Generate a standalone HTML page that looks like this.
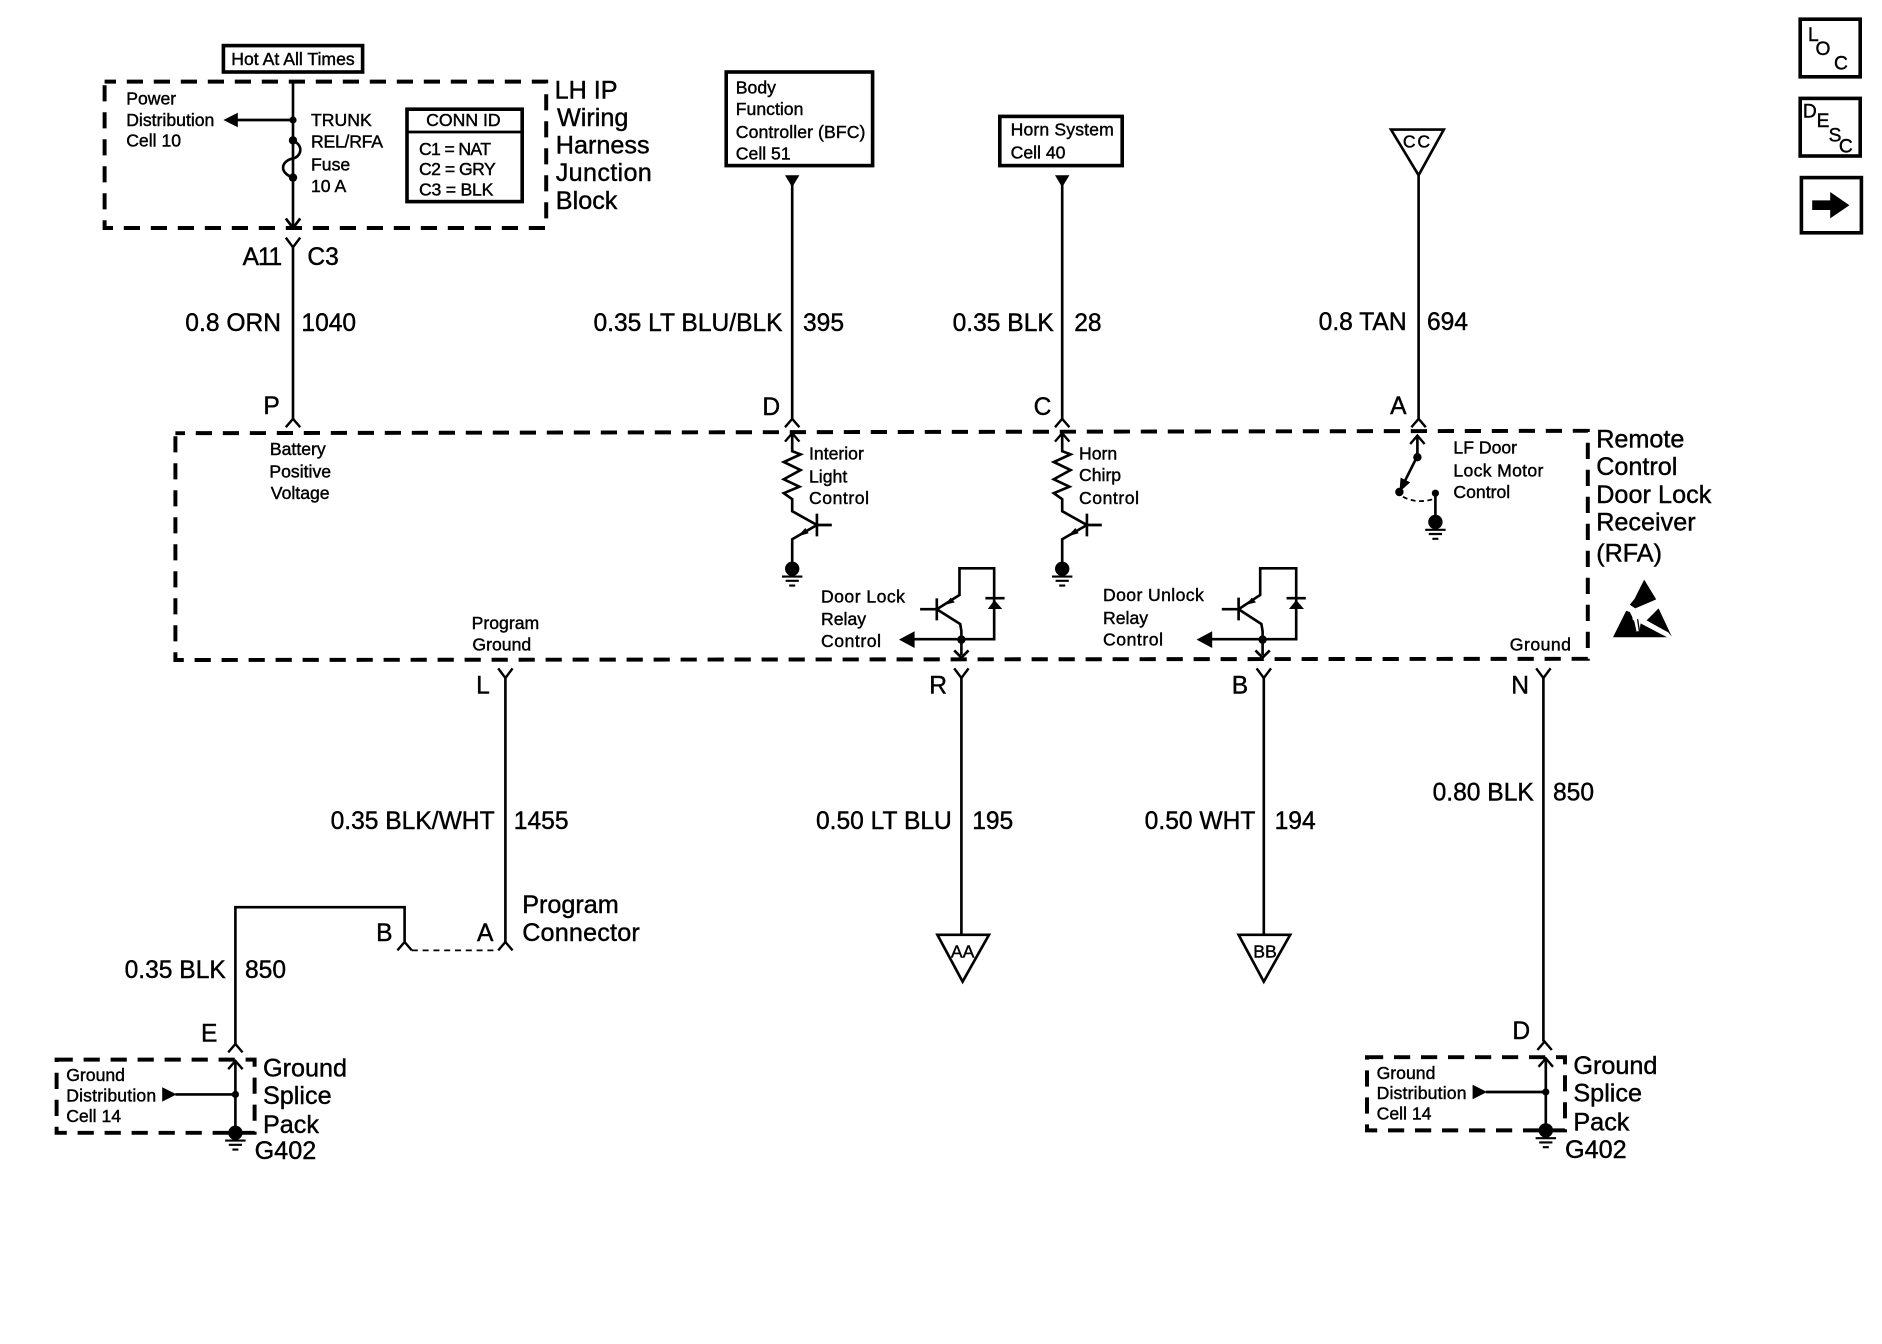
<!DOCTYPE html>
<html lang="en"><head><meta charset="utf-8"><title>Remote Control Door Lock Receiver Wiring Diagram</title>
<style>
html,body{margin:0;padding:0;background:#fff;width:1882px;height:1344px;overflow:hidden}
svg{display:block}
text{font-family:"Liberation Sans",sans-serif;fill:#000;stroke:#000;stroke-width:.35}
.s{font-size:14.7px}.m{font-size:16px}.l{font-size:21px}.w{font-size:20.5px}
.e{text-anchor:end}.c{text-anchor:middle}
.ln{fill:none;stroke:#000;stroke-width:2.2;stroke-linejoin:miter}
.d{fill:none;stroke:#000;stroke-width:3.3;stroke-dasharray:13.5 9}
.b{fill:none;stroke:#000;stroke-width:3}
</style></head><body>
<svg width="1882" height="1344" viewBox="0 0 1568 1120" xmlns="http://www.w3.org/2000/svg">
<defs>
<path id="fu" d="M-6 7 L0 0 L6 7" fill="none" stroke="#000" stroke-width="2"/>
<path id="fd" d="M-6 -8 L0 0 L6 -8" fill="none" stroke="#000" stroke-width="2"/>
<g id="gnd"><circle cx="0" cy="-1" r="6"/><path d="M-8.500 5.500H8.500M-5.500 9H5.500M-2.500 13H2.500" stroke="#000" stroke-width="1.800"/></g>
</defs>
<rect width="1568" height="1120" fill="#fff"/>

<!-- LH IP block -->
<rect x="186" y="38" width="116" height="22" class="b"/>
<text x="244" y="54" class="s c">Hot At All Times</text>
<path class="d" d="M87 68H455V190H87Z" stroke-dashoffset="4"/>
<path class="ln" d="M244 68V190"/>
<path d="M238 182L244 190L250 182" class="ln"/>
<circle cx="244" cy="100" r="3"/><circle cx="244" cy="117" r="3.500"/><circle cx="244" cy="148" r="3.500"/>
<path class="ln" d="M244 100H196"/><path d="M186 100L198 94V106Z"/>
<path class="ln" d="M244 117C254 122 250 131 244 132C234 134 232 144 244 148"/>
<text x="105" y="87" class="s">Power</text><text x="105" y="105" class="s">Distribution</text><text x="105" y="122" class="s">Cell 10</text>
<text x="259" y="105" class="s">TRUNK</text><text x="259" y="123" class="s" textLength="60">REL/RFA</text><text x="259" y="142" class="s">Fuse</text><text x="259" y="160" class="s">10 A</text>
<rect x="339" y="91" width="96" height="77" class="b"/><path class="ln" d="M339 110H435"/>
<text x="386" y="105" class="s c">CONN ID</text><text x="349" y="129" class="s" textLength="60">C1 = NAT</text><text x="349" y="146" class="s" textLength="64">C2 = GRY</text><text x="349" y="163" class="s" textLength="62">C3 = BLK</text>
<text x="462" y="82" class="l">LH IP</text><text x="464" y="105" class="l">Wiring</text><text x="463" y="128" class="l">Harness</text><text x="463" y="151" class="l" textLength="80">Junction</text><text x="463" y="174" class="l">Block</text>

<!-- P wire -->
<path class="ln" d="M244 206V349"/><use href="#fd" x="244" y="206"/><use href="#fu" x="244" y="349"/>
<text x="234" y="221" class="w e" letter-spacing="-1">A11</text><text x="256" y="221" class="w">C3</text>
<text x="234" y="276" class="w e">0.8 ORN</text><text x="251" y="276" class="w">1040</text>
<text x="233" y="345" class="w e">P</text>

<!-- Main receiver -->
<path class="d" d="M146 361L1323 359V549L146 550Z" stroke-dasharray="13.500 9" stroke-dashoffset="5.500"/>
<text x="248" y="379" class="s c">Battery</text><text x="250" y="398" class="s c">Positive</text><text x="250" y="416" class="s c">Voltage</text>

<!-- BFC column -->
<rect x="605" y="60" width="122" height="78" class="b"/>
<text x="613" y="78" class="s">Body</text><text x="613" y="96" class="s">Function</text><text x="613" y="115" class="s" textLength="108">Controller (BFC)</text><text x="613" y="133" class="s">Cell 51</text>
<path d="M654 146H666L660 156Z"/>
<path class="ln" d="M660 150V349"/><use href="#fu" x="660" y="349"/>
<text x="652" y="276" class="w e">0.35 LT BLU/BLK</text><text x="669" y="276" class="w">395</text>
<text x="650" y="346" class="w e">D</text>
<use href="#fu" x="660" y="361"/>
<path class="ln" d="M660 361V376L667 378.600L653 385L667 391.700L653 399.400L666 405.600L653 411L660 416V426L680.600 437.500M680.600 428V447M680 437.500H693M680.600 437.500L660 449.400V470"/>
<path d="M664.500 447L671 440L673.700 444.400Z"/>
<use href="#gnd" x="660" y="475"/>
<text x="674" y="383" class="s">Interior</text><text x="674" y="402" class="s">Light</text><text x="674" y="420" class="s" textLength="50">Control</text>

<!-- Horn column -->
<rect x="833" y="97" width="102" height="41" class="b"/>
<text x="842" y="113" class="s" textLength="86">Horn System</text><text x="842" y="132" class="s">Cell 40</text>
<path d="M879 146H891L885 156Z"/>
<path class="ln" d="M885 150V349"/><use href="#fu" x="885" y="349"/>
<text x="878" y="276" class="w e">0.35 BLK</text><text x="895" y="276" class="w">28</text>
<text x="876" y="346" class="w e">C</text>
<use href="#fu" x="885" y="361"/>
<path class="ln" d="M885 361V376L892 378.600L878 385L892 391.700L878 399.400L891 405.600L878 411L885 416V426L905.600 437.500M905.600 428V447M905 437.500H918M905.600 437.500L885 449.400V470"/>
<path d="M889.500 447L896 440L898.700 444.400Z"/>
<use href="#gnd" x="885" y="475"/>
<text x="899" y="383" class="s">Horn</text><text x="899" y="401" class="s">Chirp</text><text x="899" y="420" class="s" textLength="50">Control</text>

<!-- CC column -->
<path class="ln" d="M1159 108H1203L1182 146Z"/>
<text x="1181" y="123" class="s c" letter-spacing="1.500">CC</text>
<path class="ln" d="M1182 146V349"/><use href="#fu" x="1182" y="349"/>
<text x="1172" y="275" class="w e">0.8 TAN</text><text x="1189" y="275" class="w">694</text>
<text x="1172" y="345" class="w e">A</text>
<use href="#fu" x="1181" y="363"/>
<path class="ln" d="M1181 363V380L1168 406"/><path d="M1166 410L1167 398L1175 402Z"/>
<circle cx="1181" cy="381" r="3.500"/><circle cx="1166" cy="410" r="3.500"/><circle cx="1196" cy="411" r="3"/>
<path d="M1169 414Q1180 420 1194 416" fill="none" stroke="#000" stroke-width="1.500" stroke-dasharray="4 3"/>
<path class="ln" d="M1196 411V432"/>
<use href="#gnd" x="1196" y="436"/>
<text x="1211" y="378" class="s">LF Door</text><text x="1211" y="397" class="s" textLength="75">Lock Motor</text><text x="1211" y="415" class="s">Control</text>
<text x="1330" y="373" class="l">Remote</text><text x="1330" y="396" class="l">Control</text><text x="1330" y="419" class="l" textLength="96">Door Lock</text><text x="1330" y="442" class="l">Receiver</text><text x="1330" y="468" class="l">(RFA)</text>
<!-- ESD -->
<path d="M1370 483L1380 499.500L1362.500 507L1358 504L1362 499Z"/>
<path d="M1355 509L1344 531H1389L1367 519.500L1366 526L1362.500 526L1360 514L1358 510Z"/>
<path d="M1372 517L1382 507L1393 530.500L1390 527Z"/>
<path d="M1361 517L1363 526M1364.500 516L1366 526" stroke="#000" stroke-width="1.100"/>

<!-- Door lock -->
<path class="ln" d="M766.600 507.700H780.500M780.500 498.600V517M780.500 507.700L799.400 495.800V473.600H828.300V532.700H760M780.500 507.700L800 520L801 526V546"/>
<path d="M787.500 504L792 498L795.500 502Z"/>
<path d="M749 533L762 526V540Z"/><circle cx="801" cy="533" r="3.500"/><path d="M795 542L801 548L807 542" class="ln"/>
<path d="M828.500 500L835 507.500H823Z"/><path class="ln" d="M821 498.500H837"/>
<text x="684" y="502" class="s" textLength="70">Door Lock</text><text x="684" y="521" class="s">Relay</text><text x="684" y="539" class="s" textLength="50">Control</text>

<!-- Door unlock -->
<path class="ln" d="M1018 507.700H1032M1032 498V517M1032 507.700L1050 495.800V473.600H1080V532.700H1008M1032 507.700L1051 520L1052 526V546"/>
<path d="M1038.500 504L1043 498L1046.500 502Z"/>
<path d="M997 533L1010 526V540Z"/><circle cx="1052" cy="533" r="3.500"/><path d="M1046 542L1052 548L1058 542" class="ln"/>
<path d="M1080 500L1086.500 507.500H1074Z"/><path class="ln" d="M1072 498.500H1088"/>
<text x="919" y="501" class="s" textLength="84">Door Unlock</text><text x="919" y="520" class="s">Relay</text><text x="919" y="538" class="s" textLength="50">Control</text>

<text x="421" y="524" class="s c">Program</text><text x="418" y="542" class="s c">Ground</text>
<text x="1258" y="542" class="s" textLength="51">Ground</text>

<!-- L wire -->
<path class="ln" d="M421 564V785"/><use href="#fd" x="421" y="565"/><use href="#fu" x="421" y="785"/>
<text x="408" y="578" class="w e">L</text>
<text x="412" y="691" class="w e">0.35 BLK/WHT</text><text x="428" y="691" class="w">1455</text>
<text x="411" y="784" class="w e">A</text>
<text x="435" y="761" class="l">Program</text><text x="435" y="784" class="l" textLength="98">Connector</text>
<text x="327" y="784" class="w e">B</text>
<path class="ln" d="M196 870V756H337V785"/><use href="#fu" x="337" y="785"/>
<path d="M343 792H415" fill="none" stroke="#000" stroke-width="1.500" stroke-dasharray="5 4"/>
<text x="188" y="815" class="w e">0.35 BLK</text><text x="204" y="815" class="w">850</text>
<text x="181" y="868" class="w e">E</text>
<use href="#fu" x="196" y="870"/>

<!-- R wire -->
<path class="ln" d="M801 564V779"/><use href="#fd" x="801" y="565"/>
<text x="789" y="578" class="w e">R</text>
<text x="793" y="691" class="w e">0.50 LT BLU</text><text x="810" y="691" class="w">195</text>
<path class="ln" d="M781 779H824L802 818Z"/>
<text x="802" y="798" class="s c">AA</text>

<!-- B wire -->
<path class="ln" d="M1053 564V779"/><use href="#fd" x="1053" y="565"/>
<text x="1040" y="578" class="w e">B</text>
<text x="1046" y="691" class="w e">0.50 WHT</text><text x="1062" y="691" class="w">194</text>
<path class="ln" d="M1032 779H1075L1053 818Z"/>
<text x="1054" y="798" class="s c">BB</text>

<!-- N wire -->
<path class="ln" d="M1286 564V868"/><use href="#fd" x="1286" y="565"/><use href="#fu" x="1287" y="868"/>
<text x="1274" y="578" class="w e">N</text>
<text x="1278" y="667" class="w e">0.80 BLK</text><text x="1294" y="667" class="w">850</text>
<text x="1275" y="866" class="w e">D</text>

<!-- Ground splice left -->
<rect x="47" y="883" width="165" height="61" class="d"/>
<text x="55" y="901" class="s">Ground</text><text x="55" y="918" class="s" textLength="75">Distribution</text><text x="55" y="935" class="s">Cell 14</text>
<path d="M135 906V918L147 912Z"/><path class="ln" d="M146 912H196M196 884V940"/><use href="#fu" x="196" y="884"/>
<circle cx="196" cy="912" r="3"/><use href="#gnd" x="196" y="945"/>
<text x="219" y="897" class="l">Ground</text><text x="219" y="920" class="l">Splice</text><text x="219" y="944" class="l">Pack</text>
<text x="212" y="966" class="l">G402</text>

<!-- Ground splice right -->
<rect x="1139" y="881" width="165" height="61" class="d"/>
<text x="1147" y="899" class="s">Ground</text><text x="1147" y="916" class="s" textLength="75">Distribution</text><text x="1147" y="933" class="s">Cell 14</text>
<path d="M1227 904V916L1239 910Z"/><path class="ln" d="M1238 910H1288M1288 882V938"/><use href="#fu" x="1288" y="882"/>
<circle cx="1288" cy="910" r="3"/><use href="#gnd" x="1288" y="943"/>
<text x="1311" y="895" class="l">Ground</text><text x="1311" y="918" class="l">Splice</text><text x="1311" y="942" class="l">Pack</text>
<text x="1304" y="965" class="l">G402</text>

<!-- Icons -->
<rect x="1500" y="16" width="50" height="48" class="b"/>
<text x="1511" y="34" class="m c">L</text><text x="1519" y="46" class="m c">O</text><text x="1534" y="58" class="m c">C</text>
<rect x="1500" y="82" width="50" height="48" class="b"/>
<text x="1508" y="98" class="m c">D</text><text x="1519" y="106" class="m c">E</text><text x="1529" y="118" class="m c">S</text><text x="1538" y="127" class="m c">C</text>
<rect x="1501" y="148" width="50" height="46" class="b"/>
<path d="M1510 167H1525V160L1541 171L1525 182V175H1510Z"/>
</svg>
</body></html>
